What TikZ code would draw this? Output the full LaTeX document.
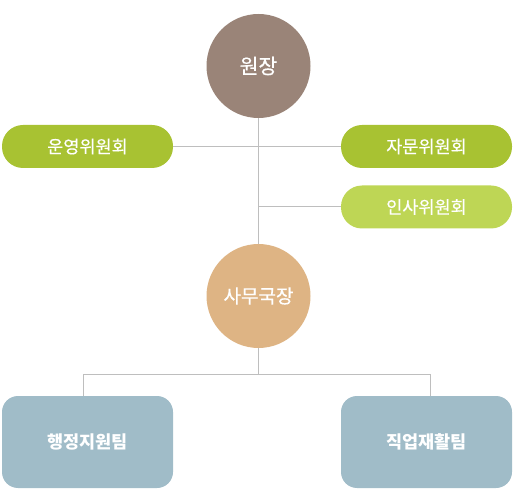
\documentclass[tikz,border=0pt]{standalone}
\usepackage{fontspec}
\usepackage{xcolor}
\usetikzlibrary{positioning, calc}
\newfontfamily\kr{Noto Sans CJK KR}[UprightFeatures={FakeBold=0.5}]
\definecolor{chiefbrown}{RGB}{154,132,120}
\definecolor{boardgreen}{RGB}{168,194,50}
\definecolor{boardlight}{RGB}{190,214,85}
\definecolor{officetan}{RGB}{222,180,132}
\definecolor{teamblue}{RGB}{160,188,200}
\definecolor{linkgray}{RGB}{190,190,190}

\begin{document}
\begin{tikzpicture}[x=1pt, y=-1pt,
    headcircle/.style={circle, minimum size=104pt, inner sep=0pt, text=white, font=\kr\fontsize{20.5}{22}\selectfont},
    boardpill/.style={rectangle, rounded corners=21pt, minimum width=171pt, minimum height=43pt, inner sep=0pt, text=white, font=\kr\fontsize{17.5}{20}\selectfont},
    teambox/.style={rectangle, rounded corners=16pt, minimum width=171pt, minimum height=92pt, inner sep=0pt, text=white, font=\kr\bfseries\fontsize{17.5}{20}\selectfont},
    link/.style={draw=linkgray, line width=1pt}]
    \useasboundingbox (0,0) rectangle (514,494);

    % Director
    \node[headcircle, fill=chiefbrown] (director) at (258.5,66) {원장};

    % Committees
    \node[boardpill, fill=boardgreen] (ops) at (87.5,146.5) {운영위원회};
    \node[boardpill, fill=boardgreen] (advice) at (426.5,146.5) {자문위원회};
    \node[boardpill, fill=boardlight] (staff) at (426.5,207) {인사위원회};

    % Secretary general
    \node[headcircle, fill=officetan, font=\kr\fontsize{19}{21}\selectfont] (office) at (258.5,296) {사무국장};

    % Teams
    \node[teambox, fill=teamblue] (admin) at (87.5,442) {행정지원팀};
    \node[teambox, fill=teamblue] (rehab) at (426.5,442) {직업재활팀};

    % Links
    \coordinate (split) at ($(office.south)+(0,26)$);
    \draw[link] (director.south) -- (office.north);
    \draw[link] (ops.east) -- (advice.west);
    \draw[link] (director.south |- staff.west) -- (staff.west);
    \draw[link] (office.south) -- (split);
    \draw[link] (split) -| ([xshift=-4.5pt]admin.north);
    \draw[link] (split) -| ([xshift=4pt]rehab.north);
\end{tikzpicture}
\end{document}
